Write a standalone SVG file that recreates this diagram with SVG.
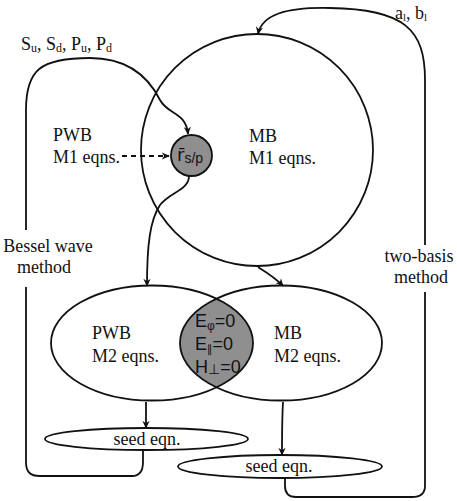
<svg xmlns="http://www.w3.org/2000/svg" width="457" height="501" viewBox="0 0 457 501">
<defs>
<marker id="ah" viewBox="0 0 10 10" refX="9" refY="5" markerWidth="8" markerHeight="8" markerUnits="userSpaceOnUse" orient="auto">
<path d="M0,0.5 L10,5 L0,9.5 L3,5 Z" fill="#111"/>
</marker>
<style>
.ln{fill:none;stroke:#111;stroke-width:1.8}
.sh{fill:none;stroke:#111;stroke-width:1.8}
.t{font-family:"Liberation Serif","Times New Roman",serif;font-size:18px;fill:#111}
.s{font-family:"Liberation Sans",Arial,sans-serif;font-size:18px;fill:#111}
.d{font-family:"DejaVu Sans",sans-serif}
.g{fill:#8f8f8f}
</style>
</defs>
<rect width="457" height="501" fill="#fff"/>
<g id="connectors">
<path class="ln" d="M26,230 L26,110 C26,70 40,58 90,58 C130,58 150,80 160,100 C168,115 186,112 188,134" marker-end="url(#ah)"/>
<path class="ln" d="M26,287 L26,462 C26,472 30,476 40,476 L132,476 C140,476 143,470 143,462 L143,450"/>
<path class="ln" d="M425,245 L425,80 C425,30 405,9 330,8 C285,7 262,15 258,34" marker-end="url(#ah)"/>
<path class="ln" d="M425,292 L425,486 C425,494 420,497 412,497 L296,497 C289,497 285,493 285,486 L285,478"/>
<path class="ln" d="M122,156 L169,156" stroke-dasharray="5,4" marker-end="url(#ah)"/>
<path class="ln" d="M189,176 C189,190 170,192 160,205 C150,220 147,245 147,286" marker-end="url(#ah)"/>
<path class="ln" d="M258,267 C266,272 276,278 283,286" marker-end="url(#ah)"/>
<path class="ln" d="M146,402 L146,428" marker-end="url(#ah)"/>
<path class="ln" d="M283,402 C282,420 282,440 282,455" marker-end="url(#ah)"/>
</g>
<g id="mb-m1">
<circle class="sh" cx="257" cy="150" r="116"/>
<text class="t" x="249" y="142">MB</text>
<text class="t" x="249" y="164">M1 eqns.</text>
</g>
<g id="pwb-m1">
<text class="t" x="53" y="141">PWB</text>
<text class="t" x="53" y="163">M1 eqns.</text>
</g>
<g id="rsp">
<circle cx="191.5" cy="155.5" r="20.5" class="g" stroke="#111" stroke-width="1.8"/>
<text class="s" x="177" y="161" font-size="16"><tspan class="d">r̄</tspan><tspan font-size="14" dy="2">s/p</tspan></text>
</g>
<g id="lens">
<path class="g" d="M216.5,298.8 A101,57.5 0 0,1 216.5,387.2 A101,57.5 0 0,1 216.5,298.8 Z"/>
<text class="s" x="195" y="327">E<tspan font-size="12" dy="3">φ</tspan><tspan dy="-3">=0</tspan></text>
<text class="s" x="195" y="350">E<tspan class="d" font-size="11" dy="3">∥</tspan><tspan dy="-3">=0</tspan></text>
<text class="s" x="195" y="373">H<tspan class="d" font-size="14" dy="1">⊥</tspan><tspan dy="-1">=0</tspan></text>
</g>
<g id="pwb-m2">
<ellipse class="sh" cx="152" cy="343" rx="101" ry="57.5"/>
<text class="t" x="92" y="339">PWB</text>
<text class="t" x="92" y="362">M2 eqns.</text>
</g>
<g id="mb-m2">
<ellipse class="sh" cx="281" cy="343" rx="101" ry="57.5"/>
<text class="t" x="274" y="339">MB</text>
<text class="t" x="274" y="362">M2 eqns.</text>
</g>
<g id="seed1">
<ellipse class="sh" cx="146.5" cy="439" rx="101.5" ry="11"/>
<text class="t" x="147" y="445" text-anchor="middle" font-size="19">seed eqn.</text>
</g>
<g id="seed2">
<ellipse class="sh" cx="280" cy="466.5" rx="102" ry="11.5"/>
<text class="t" x="279" y="472" text-anchor="middle" font-size="19">seed eqn.</text>
</g>
<g id="labels">
<text class="t" x="21" y="50">S<tspan font-size="12" dy="2">u</tspan><tspan dy="-2">, S</tspan><tspan font-size="12" dy="2">d</tspan><tspan dy="-2">, P</tspan><tspan font-size="12" dy="2">u</tspan><tspan dy="-2">, P</tspan><tspan font-size="12" dy="2">d</tspan></text>
<text class="t" x="395" y="19" font-size="16">a<tspan font-size="11" dy="2">l</tspan><tspan dy="-2">, b</tspan><tspan font-size="11" dy="2">l</tspan></text>
<text class="t" x="48" y="252" text-anchor="middle">Bessel wave</text>
<text class="t" x="44" y="273" text-anchor="middle">method</text>
<text class="t" x="419" y="262" text-anchor="middle">two-basis</text>
<text class="t" x="421" y="283" text-anchor="middle">method</text>
</g>
</svg>
